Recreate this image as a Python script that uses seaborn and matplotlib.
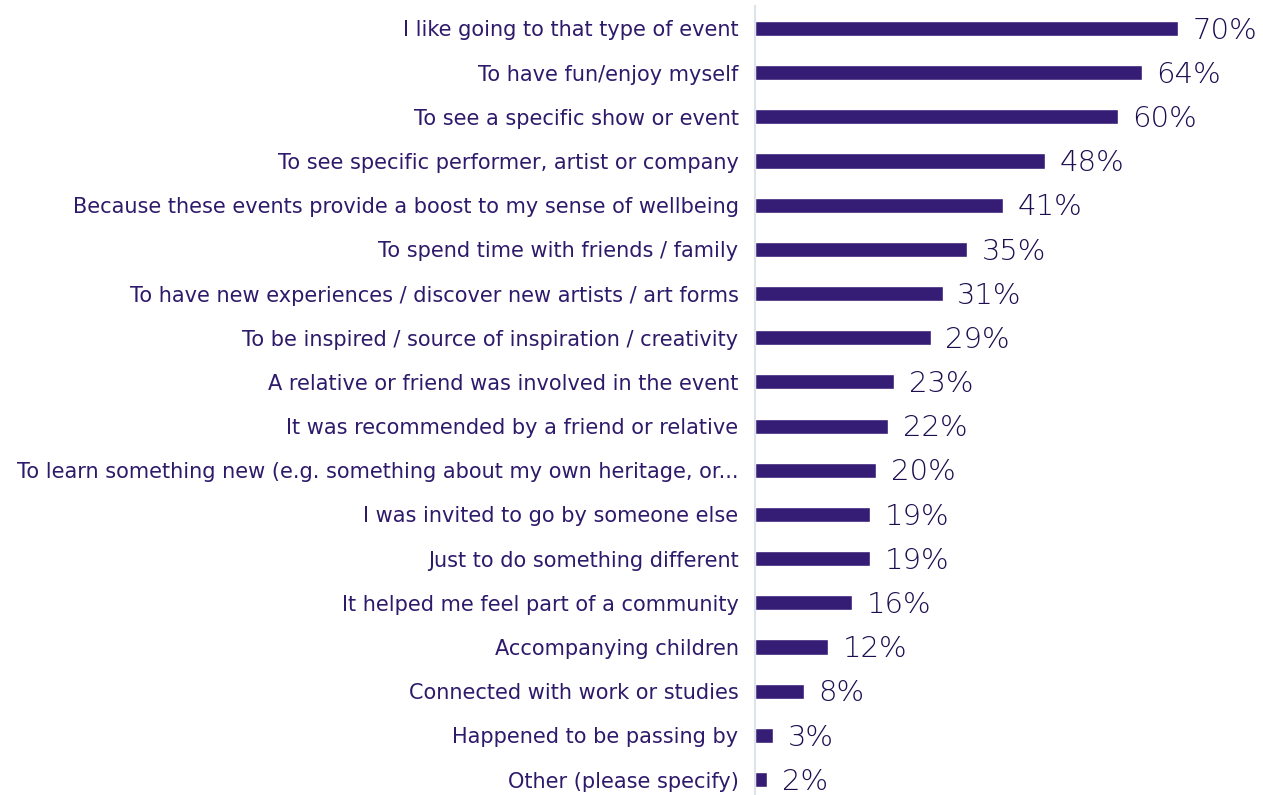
import pandas as pd
import seaborn as sns
import matplotlib.pyplot as plt

# reasons for attending, share of respondents (%)
reasons = [
    "I like going to that type of event",
    "To have fun/enjoy myself",
    "To see a specific show or event",
    "To see specific performer, artist or company",
    "Because these events provide a boost to my sense of wellbeing",
    "To spend time with friends / family",
    "To have new experiences / discover new artists / art forms",
    "To be inspired / source of inspiration / creativity",
    "A relative or friend was involved in the event",
    "It was recommended by a friend or relative",
    "To learn something new (e.g. something about my own heritage, or...",
    "I was invited to go by someone else",
    "Just to do something different",
    "It helped me feel part of a community",
    "Accompanying children",
    "Connected with work or studies",
    "Happened to be passing by",
    "Other (please specify)",
]
shares = [70, 64, 60, 48, 41, 35, 31, 29, 23, 22, 20, 19, 19, 16, 12, 8, 3, 2]

bar_color = "#351c75"
text_color = "#2e1a6b"

df = pd.DataFrame({"reason": reasons, "share": shares})

sns.set_theme(style="white")
plt.rcParams["font.family"] = ["DejaVu Sans"]

fig = plt.figure(figsize=(12.63, 7.95), dpi=100)
ax = fig.add_axes([0.598, 0.0, 0.402, 0.992])

sns.barplot(data=df, x="share", y="reason", color=bar_color, width=0.34,
            saturation=1, ax=ax)

for i, v in enumerate(shares):
    ax.text(v + 2.4, i + 0.05, f"{v}%", va="center", ha="left", fontsize=21,
            color="#1e0e50", fontweight="light")

ax.set_xlim(0, 84)
ax.set_ylim(17.35, -0.5)
ax.set_xlabel("")
ax.set_ylabel("")
ax.set_xticks([])
ax.tick_params(axis="y", length=0, pad=12, labelsize=15, labelcolor=text_color)
for s in ["top", "right", "bottom"]:
    ax.spines[s].set_visible(False)
ax.spines["left"].set_color("#dde3ec")
ax.spines["left"].set_linewidth(1.5)

fig.savefig("out.png", dpi=100)
